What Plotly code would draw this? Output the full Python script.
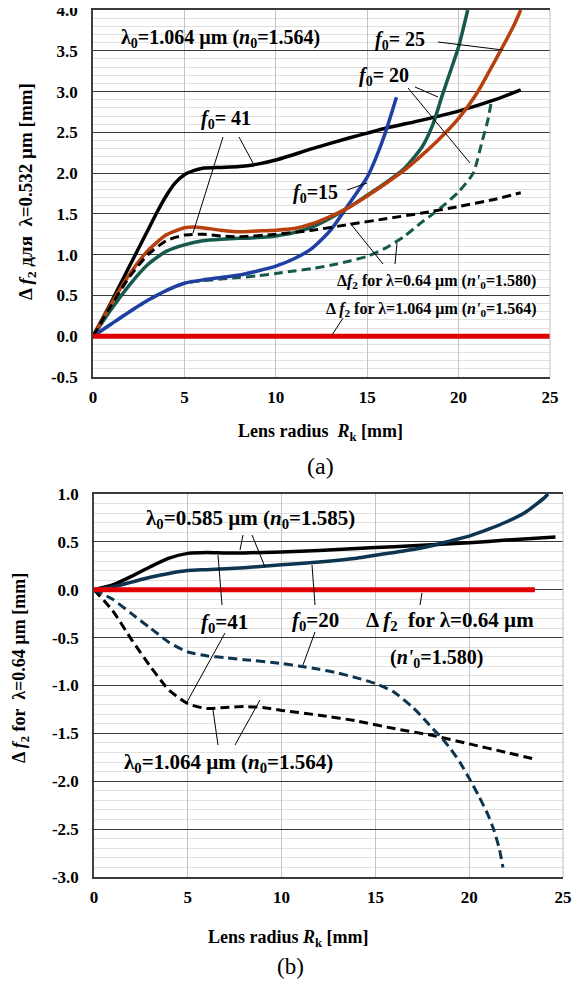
import plotly.graph_objects as go

# page is 580x989; the html body has an 8px margin, so the figure itself is 564x973
PAGE_W, PAGE_H = 580, 989
OFF = 8
W, H = PAGE_W - 2 * OFF, PAGE_H - 2 * OFF

# ---------------- data: chart (a) ----------------
xa_black = [0, 1, 2, 3, 3.5, 4, 4.5, 5, 5.5, 6, 7, 8, 9, 10, 12, 14, 15, 16, 18, 20, 22, 23.4]
ya_black = [0, 0.42, 0.86, 1.3, 1.52, 1.72, 1.88, 1.98, 2.03, 2.06, 2.07, 2.08, 2.11, 2.16, 2.3, 2.43, 2.49, 2.55, 2.65, 2.76, 2.9, 3.02]

xa_red = [0, 1, 2, 3, 4, 5, 5.5, 6, 7, 8, 9, 10, 11, 12, 13, 14, 15, 16, 17, 18, 19, 20, 21, 22, 23, 23.4]
ya_red = [0, 0.4, 0.76, 1.05, 1.24, 1.33, 1.34, 1.33, 1.3, 1.28, 1.29, 1.3, 1.32, 1.38, 1.47, 1.58, 1.72, 1.87, 2.03, 2.22, 2.43, 2.67, 2.98, 3.38, 3.8, 4.0]

xa_green = [0, 1, 2, 3, 4, 5, 6, 7, 8, 9, 10, 11, 12, 13, 14, 15, 16, 17, 18, 18.6, 19.1, 19.6, 20, 20.5]
ya_green = [0, 0.33, 0.63, 0.88, 1.04, 1.12, 1.17, 1.19, 1.2, 1.21, 1.23, 1.27, 1.34, 1.45, 1.58, 1.73, 1.88, 2.05, 2.32, 2.6, 2.95, 3.28, 3.55, 4.0]

xa_blue = [0, 1, 2, 3, 4, 5, 6, 7, 8, 9, 10, 11, 12, 13, 14, 15, 15.5, 16, 16.6]
ya_blue = [0, 0.15, 0.3, 0.44, 0.56, 0.65, 0.69, 0.72, 0.75, 0.8, 0.86, 0.95, 1.08, 1.3, 1.62, 1.95, 2.2, 2.5, 2.93]

xa_kdash = [0, 1, 2, 3, 4, 5, 6, 7, 8, 10, 12, 14, 16, 18, 20, 22, 23.4]
ya_kdash = [0, 0.38, 0.73, 1.0, 1.17, 1.24, 1.25, 1.23, 1.22, 1.25, 1.3, 1.37, 1.44, 1.51, 1.59, 1.68, 1.76]

xa_gdash = [0, 1, 2, 3, 4, 5, 6, 7, 8, 9, 10, 11, 12, 13, 14, 15, 16, 17, 18, 18.6, 19, 20, 20.8, 21.3, 21.6, 21.8]
ya_gdash = [0, 0.15, 0.3, 0.44, 0.56, 0.65, 0.68, 0.7, 0.72, 0.74, 0.77, 0.8, 0.83, 0.87, 0.92, 0.98, 1.08, 1.22, 1.4, 1.5, 1.57, 1.77, 2.0, 2.4, 2.65, 2.89]

xa_zero = [0, 25]
ya_zero = [0, 0]

ya_ticks = [-0.5, 0, 0.5, 1.0, 1.5, 2.0, 2.5, 3.0, 3.5, 4.0]
ya_ticktext = ["-0.5", "0.0", "0.5", "1.0", "1.5", "2.0", "2.5", "3.0", "3.5", "4.0"]

# ---------------- data: chart (b) ----------------
xb_black = [0, 1, 2, 3, 4, 5, 6, 7, 8, 10, 12, 14, 16, 18, 20, 22, 24.6]
yb_black = [0, 0.05, 0.14, 0.24, 0.33, 0.38, 0.39, 0.385, 0.385, 0.395, 0.41, 0.43, 0.45, 0.47, 0.49, 0.52, 0.55]

xb_blue = [0, 1, 2, 3, 4, 5, 6, 7, 8, 10, 12, 14, 15, 16, 17, 18, 19, 20, 21, 22, 23, 24, 24.2]
yb_blue = [0, 0.03, 0.08, 0.13, 0.17, 0.2, 0.21, 0.22, 0.23, 0.26, 0.29, 0.33, 0.36, 0.39, 0.42, 0.46, 0.51, 0.56, 0.63, 0.71, 0.81, 0.96, 1.0]

xb_kdash = [0, 1, 2, 3, 3.7, 4, 5, 6, 7, 8, 9, 10, 12, 14, 16, 18, 20, 22, 23.5]
yb_kdash = [0, -0.22, -0.52, -0.8, -0.98, -1.05, -1.19, -1.24, -1.23, -1.22, -1.23, -1.26, -1.31, -1.37, -1.45, -1.52, -1.61, -1.7, -1.77]

xb_bdash = [0, 1, 2, 3, 3.4, 4, 5, 6, 7, 8, 10, 11, 12, 13, 14, 15, 16, 17, 17.5, 18, 18.5, 19, 19.5, 20, 20.5, 21, 21.3, 21.6, 21.8]
yb_bdash = [0, -0.1, -0.25, -0.4, -0.46, -0.55, -0.65, -0.69, -0.71, -0.73, -0.77, -0.8, -0.83, -0.87, -0.92, -0.98, -1.07, -1.23, -1.33, -1.44, -1.54, -1.66, -1.8, -1.97, -2.15, -2.35, -2.5, -2.7, -2.9]

xb_zero = [0, 23.5]
yb_zero = [0, 0]

yb_ticks = [-3.0, -2.5, -2.0, -1.5, -1.0, -0.5, 0, 0.5, 1.0]
yb_ticktext = ["-3.0", "-2.5", "-2.0", "-1.5", "-1.0", "-0.5", "0.0", "0.5", "1.0"]

x_ticks = [0, 5, 10, 15, 20, 25]
x_ticktext = ["0", "5", "10", "15", "20", "25"]

# ---------------- styling ----------------
SERIF = "Liberation Serif, Times New Roman, Times, serif"
C_BLACK = "#000000"
C_RED = "#B8400E"
C_GREEN = "#16594D"
C_BLUE = "#1F3FA3"
C_NAVY = "#0E3550"
C_ZERO = "#E00000"


def P(px, py):
    """page pixel -> paper coordinates"""
    return (px - OFF) / W, 1 - (py - OFF) / H


def dom_x(p0, p1):
    return [(p0 - OFF) / W, (p1 - OFF) / W]


def dom_y(top, bottom):
    return [1 - (bottom - OFF) / H, 1 - (top - OFF) / H]


fig = go.Figure()


def line(x, y, color, width, dash="solid", axis="1"):
    fig.add_trace(go.Scatter(
        x=x, y=y, mode="lines",
        line=dict(color=color, width=width, dash=dash, shape="spline", smoothing=0.6),
        xaxis="x" if axis == "1" else "x2",
        yaxis="y" if axis == "1" else "y2",
        showlegend=False, hoverinfo="skip"))


DASH = "9px,5px"
# chart (a)
line(xa_black, ya_black, C_BLACK, 3.5)
line(xa_gdash, ya_gdash, C_GREEN, 3, DASH)
line(xa_blue, ya_blue, C_BLUE, 3.5)
line(xa_green, ya_green, C_GREEN, 3.5)
line(xa_red, ya_red, C_RED, 3.5)
line(xa_kdash, ya_kdash, C_BLACK, 3, DASH)
line(xa_zero, ya_zero, C_ZERO, 5)
# chart (b)
line(xb_black, yb_black, C_BLACK, 3.5, axis="2")
line(xb_blue, yb_blue, C_NAVY, 3.5, axis="2")
line(xb_kdash, yb_kdash, C_BLACK, 3, DASH, axis="2")
line(xb_bdash, yb_bdash, C_NAVY, 3, DASH, axis="2")
line(xb_zero, yb_zero, C_ZERO, 5, axis="2")

tickfont = dict(family=SERIF, size=17, color="#000", weight="bold")


def xax(domain, anchor):
    return dict(domain=domain, anchor=anchor, range=[0, 25], automargin=False,
                tickmode="array", tickvals=x_ticks, ticktext=x_ticktext,
                showgrid=True, gridcolor="#C4C4C4", gridwidth=1,
                showline=True, mirror=True, linecolor="#3A3A3A", linewidth=1.5,
                zeroline=False, ticks="", tickfont=tickfont, ticklabelstandoff=4,
                ticklabeloverflow="allow", fixedrange=True)


def yax(domain, anchor, rng, tv, tt):
    return dict(domain=domain, anchor=anchor, range=rng, automargin=False,
                tickmode="array", tickvals=tv, ticktext=tt,
                showgrid=True, gridcolor="#3A3A3A", gridwidth=1.3,
                minor=dict(dtick=0.1, tick0=0, showgrid=True, gridcolor="#E0E0E0", gridwidth=1),
                showline=True, linecolor="#404040", linewidth=1.5,
                zeroline=False, ticks="", tickfont=tickfont, ticklabelstandoff=10,
                ticklabeloverflow="allow", fixedrange=True)


fig.update_layout(
    width=W, height=H,
    margin=dict(l=0, r=0, t=0, b=0, autoexpand=False),
    paper_bgcolor="white", plot_bgcolor="white",
    font=dict(family=SERIF),
    xaxis=xax(dom_x(93, 550), "y"),
    yaxis=yax(dom_y(10, 377), "x", [-0.5, 4.0], ya_ticks, ya_ticktext),
    xaxis2=xax(dom_x(94, 563), "y2"),
    yaxis2=yax(dom_y(494, 877), "x2", [-3.0, 1.0], yb_ticks, yb_ticktext),
    showlegend=False,
)

# vertical right edge lines (light grey)
for (px, y0, y1) in [(550, 10, 377), (563, 494, 877)]:
    a = P(px, y0); b = P(px, y1)
    fig.add_shape(type="line", xref="paper", yref="paper", x0=a[0], y0=a[1], x1=b[0], y1=b[1],
                  line=dict(color="#BDBDBD", width=1))


def txt(s, px, py, size=20, bold=True, angle=0):
    x, y = P(px, py)
    fig.add_annotation(text=s, x=x, y=y, xref="paper", yref="paper", showarrow=False,
                       xanchor="center", yanchor="middle", textangle=angle,
                       font=dict(family=SERIF, size=size, color="#000",
                                 weight="bold" if bold else "normal"))


def lead(x0, y0, x1, y1):
    a = P(x0, y0); b = P(x1, y1)
    fig.add_shape(type="line", xref="paper", yref="paper", x0=a[0], y0=a[1], x1=b[0], y1=b[1],
                  line=dict(color="#000", width=1))


# ---- chart (a) texts ----
txt("λ<sub>0</sub>=1.064 µm (<i>n</i><sub>0</sub>=1.564)", 220, 38, size=20)
txt("<i>f</i><sub>0</sub>= 41", 226, 120, size=20)
txt("<i>f</i><sub>0</sub>= 25", 400, 40, size=20)
txt("<i>f</i><sub>0</sub>= 20", 384, 77, size=20)
txt("<i>f</i><sub>0</sub>=15", 315, 194, size=20)
txt("Δ<i>f</i><sub>2</sub> for λ=0.64 µm (<i>n'</i><sub>0</sub>=1.580)", 436, 281, size=16)
txt("Δ <i>f</i><sub>2</sub> for λ=1.064 µm (<i>n'</i><sub>0</sub>=1.564)", 431, 309, size=16)
txt("Lens radius  <i>R</i><sub>k</sub> [mm]", 320, 432, size=18)
txt("(a)", 320, 466, size=24, bold=False)
txt("Δ <i>f</i><sub>2</sub> для  λ=0.532 µm [mm]", 27, 192, size=19, angle=-90)

for seg in [(223, 137, 193, 233), (239, 137, 253, 163), (438, 42, 503, 50),
            (415, 87, 438, 97), (408, 88, 470, 163), (347, 190, 367, 183),
            (383, 264, 350, 223), (395, 264, 397, 243), (343, 318, 332, 335)]:
    lead(*seg)

# ---- chart (b) texts ----
txt("λ<sub>0</sub>=0.585 µm (<i>n</i><sub>0</sub>=1.585)", 250, 519, size=21)
txt("<i>f</i><sub>0</sub>=41", 225, 623, size=21)
txt("<i>f</i><sub>0</sub>=20", 315, 621, size=21)
txt("Δ <i>f</i><sub>2</sub>  for λ=0.64 µm", 450, 621, size=21)
txt("(<i>n'</i><sub>0</sub>=1.580)", 436, 658, size=20)
txt("λ<sub>0</sub>=1.064 µm (<i>n</i><sub>0</sub>=1.564)", 228, 763, size=21)
txt("Lens radius <i>R</i><sub>k</sub> [mm]", 288, 938, size=18)
txt("(b)", 290, 966, size=23, bold=False)
txt("Δ <i>f</i><sub>2</sub> for  λ=0.64 µm [mm]", 20, 668, size=18, angle=-90)

for seg in [(243, 535, 240, 550), (252, 535, 265, 567), (222, 605, 218, 555),
            (225, 633, 187, 702), (315, 605, 312, 565), (315, 632, 303, 665),
            (420, 605, 422, 593), (218, 745, 213, 710), (235, 745, 260, 700)]:
    lead(*seg)

fig.write_html("out.html")
